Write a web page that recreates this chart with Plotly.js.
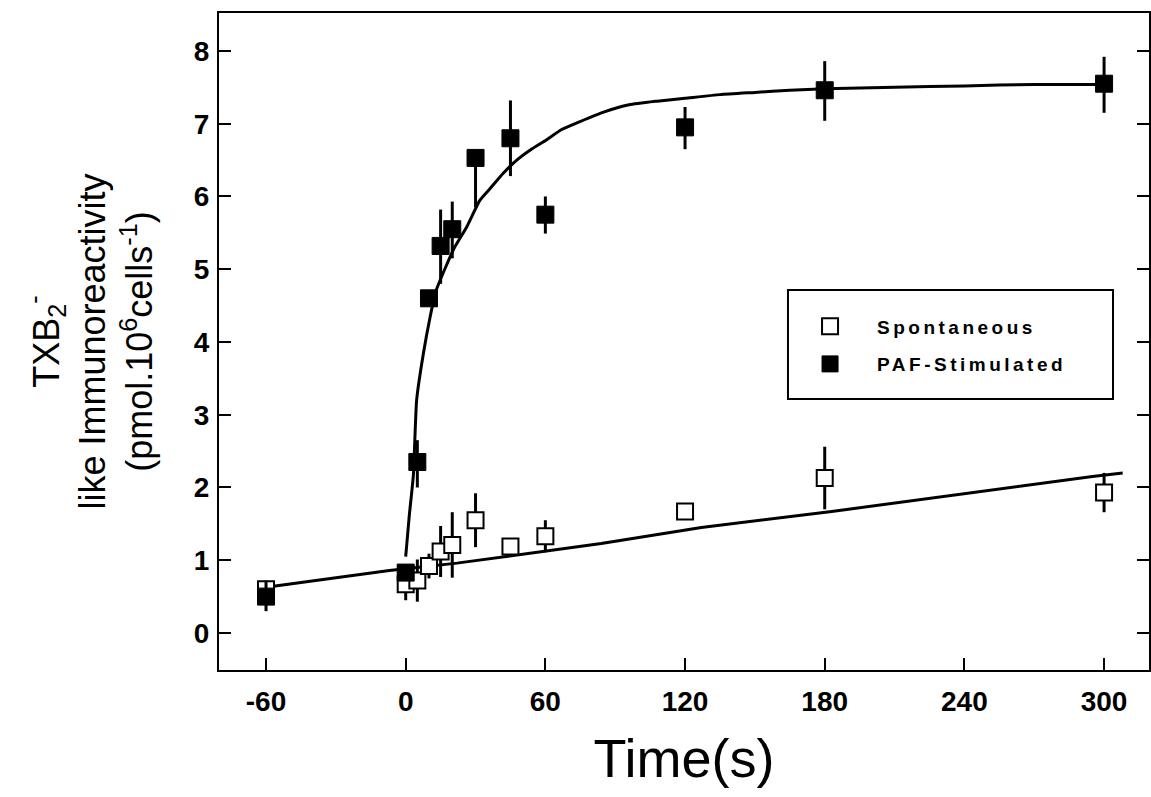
<!DOCTYPE html>
<html>
<head>
<meta charset="utf-8">
<script src="https://cdn.plot.ly/plotly-3.0.1.min.js"></script>
<style>
  html, body { margin: 0; padding: 0; background: #fff; }
  #chart { width: 1151px; height: 797px; }
  .legendtext { letter-spacing: 3.5px; }
</style>
</head>
<body>
<div id="chart"></div>
<script>
// ---- data ----
const timeSec = [-60, 0, 5, 10, 15, 20, 30, 45, 60, 120, 180, 300];

const spontMean = [0.60, 0.67, 0.72, 0.92, 1.12, 1.21, 1.55, 1.19, 1.33, 1.67, 2.13, 1.93];
const spontErr  = [0.12, 0.22, 0.29, 0.17, 0.35, 0.45, 0.37, 0.10, 0.22, 0.08, 0.43, 0.27];

const pafMean      = [0.50, 0.83, 2.35, 4.60, 5.32, 5.55, 6.53, 6.80, 5.75, 6.95, 7.46, 7.55];
const pafErrPlus   = [0.20, 0.10, 0.30, 0.05, 0.50, 0.38, 0.00, 0.52, 0.25, 0.28, 0.40, 0.37];
const pafErrMinus  = [0.20, 0.10, 0.35, 0.05, 0.52, 0.40, 0.68, 0.52, 0.26, 0.30, 0.42, 0.40];

// fitted curve for PAF-stimulated
const pafFitX = [0, 1.5, 3.3, 4.7, 7.6, 10.4, 13, 16.9, 21, 26.2, 31.9, 36, 41.9, 47.7, 54, 60.6, 67, 74.9, 85, 96, 108, 120, 135, 150, 165, 180, 210, 240, 270, 300];
const pafFitY = [1.05, 1.60, 2.17, 3.20, 3.84, 4.33, 4.70, 5.01, 5.30, 5.58, 5.95, 6.10, 6.32, 6.50, 6.65, 6.78, 6.92, 7.03, 7.16, 7.26, 7.31, 7.35, 7.40, 7.43, 7.46, 7.48, 7.50, 7.52, 7.54, 7.54];

// fitted line for spontaneous release
const spontFitX = [-60, -7, 22, 84, 127, 183, 295, 308];
const spontFitY = [0.63, 0.86, 0.96, 1.23, 1.45, 1.67, 2.15, 2.20];

const xTicks = [-60, 0, 60, 120, 180, 240, 300];
const yTicks = [0, 1, 2, 3, 4, 5, 6, 7, 8];

const seriesNames = ['Spontaneous', 'PAF-Stimulated'];

// ---- chart ----
const tickFont = {family: '"Liberation Sans", Arial, sans-serif', size: 28, color: '#000', weight: 'bold'};
const titleFontFamily = '"Liberation Sans", Arial, sans-serif';

const traces = [
  {
    x: spontFitX, y: spontFitY, type: 'scatter', mode: 'lines',
    line: {color: '#000', width: 3}, showlegend: false, hoverinfo: 'skip'
  },
  {
    x: pafFitX, y: pafFitY, type: 'scatter', mode: 'lines',
    line: {color: '#000', width: 3, shape: 'spline', smoothing: 0.5}, showlegend: false, hoverinfo: 'skip'
  },
  {
    x: timeSec, y: spontMean, type: 'scatter', mode: 'markers', name: seriesNames[0],
    legendgroup: 'a',
    marker: {symbol: 'square', size: 16, color: '#fff', line: {color: '#000', width: 2}},
    error_y: {type: 'data', array: spontErr, visible: true, color: '#000', thickness: 3, width: 0}
  },
  {
    x: timeSec, y: pafMean, type: 'scatter', mode: 'markers', name: seriesNames[1],
    legendgroup: 'b',
    marker: {symbol: 'square', size: 17, color: '#000', line: {color: '#000', width: 1}},
    error_y: {type: 'data', symmetric: false, array: pafErrPlus, arrayminus: pafErrMinus, visible: true, color: '#000', thickness: 3, width: 0}
  }
];

const layout = {
  width: 1151, height: 797,
  margin: {l: 219, r: 2, t: 13, b: 127},
  paper_bgcolor: '#fff', plot_bgcolor: '#fff',
  showlegend: true,
  legend: {
    x: 0.6065, y: 0.552, xanchor: 'left', yanchor: 'top',
    bgcolor: 'rgba(0,0,0,0)', borderwidth: 0,
    font: {family: '"Liberation Sans", Arial, sans-serif', size: 19, color: '#000', weight: 'bold'},
    itemwidth: 84, tracegroupgap: 10, traceorder: 'grouped'
  },
  shapes: [
    {type: 'rect', xref: 'paper', yref: 'paper', x0: 0.6118, x1: 0.9613, y0: 0.4125, y1: 0.5784,
     line: {color: '#000', width: 2}, fillcolor: 'rgba(0,0,0,0)', layer: 'above'}
  ],
  xaxis: {
    range: [-80.2, 319.3], tickvals: xTicks, ticktext: xTicks.map(String),
    showgrid: false, zeroline: false,
    showline: true, linecolor: '#000', linewidth: 2, mirror: true,
    ticks: 'inside', ticklen: 12, tickwidth: 2, tickcolor: '#000',
    tickfont: tickFont, ticklabelstandoff: 5,
    title: {text: 'Time(s)', font: {family: titleFontFamily, size: 54, color: '#000'}, standoff: 24}
  },
  yaxis: {
    range: [-0.509, 8.522], tickvals: yTicks, ticktext: yTicks.map(String),
    showgrid: false, zeroline: false,
    showline: true, linecolor: '#000', linewidth: 2, mirror: 'ticks',
    ticks: 'inside', ticklen: 12, tickwidth: 2, tickcolor: '#000',
    tickfont: tickFont, ticklabelstandoff: 2,
    title: {
      text: 'TXB<sub>2</sub><sup>-</sup><br>like Immunoreactivity<br>(pmol.10<sup>6</sup>cells<sup>-1</sup>)',
      font: {family: titleFontFamily, size: 36, color: '#000'}, standoff: 30
    }
  }
};

Plotly.newPlot('chart', traces, layout, {displayModeBar: false, staticPlot: true});
</script>
</body>
</html>
